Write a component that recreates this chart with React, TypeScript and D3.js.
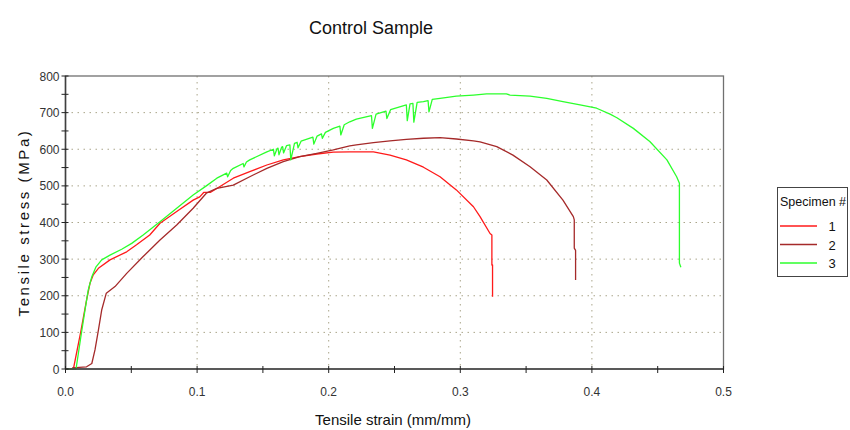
import React from "react";
import * as d3 from "d3";

// --- data (strain mm/mm, stress MPa) ---
const strain1 = [0, 0.006, 0.0115, 0.016, 0.0186, 0.0211, 0.025, 0.0338, 0.0465, 0.054, 0.064, 0.0718, 0.0845, 0.097, 0.102, 0.105, 0.11, 0.1275, 0.14, 0.153, 0.1655, 0.178, 0.191, 0.2035, 0.216, 0.234, 0.2466, 0.259, 0.272, 0.2846, 0.297, 0.31, 0.315, 0.3226, 0.324, 0.324, 0.3245, 0.3245];
const stress1 = [0, 0, 100, 188, 234, 257, 275, 298, 320, 339, 366, 398, 430, 461, 470, 482, 482, 521, 539, 557, 571, 580, 587, 592, 593, 593, 584, 571, 551, 525, 489, 443, 416, 370, 366, 284, 284, 197];

const strain2 = [0.005, 0.016, 0.02, 0.0224, 0.025, 0.0275, 0.031, 0.0376, 0.0465, 0.059, 0.0718, 0.0845, 0.097, 0.107, 0.115, 0.1275, 0.14, 0.153, 0.1655, 0.178, 0.191, 0.2035, 0.216, 0.221, 0.234, 0.2466, 0.259, 0.272, 0.2846, 0.297, 0.31, 0.315, 0.3277, 0.34, 0.353, 0.3657, 0.378, 0.3859, 0.3866, 0.3866, 0.3876, 0.3876];
const stress2 = [3, 6, 15, 52, 106, 161, 207, 225, 261, 307, 352, 393, 439, 480, 493, 502, 525, 548, 566, 580, 589, 598, 609, 612, 618, 623, 627, 630, 632, 628, 623, 620, 607, 584, 552, 516, 461, 416, 407, 330, 324, 243];

// specimen 3 with its serrations (sharp drop, slower recovery)
const strain3 = [0, 0.008, 0.0115, 0.0148, 0.0173, 0.02, 0.0232, 0.0275, 0.0338, 0.0427, 0.0503, 0.059, 0.0718, 0.0845, 0.097, 0.107, 0.115,
    0.1225, 0.1232, 0.1255, 0.1275, 0.135, 0.1356, 0.1375, 0.14, 0.153,
    0.158, 0.1587, 0.1608, 0.1615, 0.1622, 0.1643, 0.165, 0.1657, 0.168, 0.1705, 0.1712, 0.174, 0.176, 0.1767, 0.179,
    0.188, 0.1887, 0.1912, 0.1945, 0.1952, 0.1975, 0.2035, 0.2085, 0.2092, 0.2118, 0.216, 0.221,
    0.2325, 0.2332, 0.236, 0.2435, 0.2442, 0.247, 0.259, 0.2597, 0.2618, 0.264, 0.2647, 0.2672, 0.272, 0.2755, 0.2762, 0.2787,
    0.2846, 0.297, 0.31, 0.32, 0.335, 0.3378, 0.353, 0.3657, 0.378, 0.391, 0.4036, 0.4138, 0.419, 0.4315, 0.444, 0.457, 0.4644, 0.4665, 0.4665, 0.4676];
const stress3 = [0, 0, 84, 161, 216, 252, 279, 298, 311, 327, 343, 366, 402, 439, 475, 500, 521,
    535, 525, 542, 548, 561, 552, 565, 571, 593,
    600, 582, 602, 603, 585, 606, 607, 590, 610, 612, 571, 616, 619, 604, 622,
    633, 614, 636, 642, 630, 646, 657, 663, 639, 667, 675, 682,
    692, 657, 696, 704, 684, 708, 721, 678, 724, 725, 674, 728, 730, 733, 702, 736,
    739, 745, 748, 751, 751, 748, 745, 739, 730, 721, 712, 696, 686, 657, 621, 571, 525, 507, 289, 278];

const specimenLabels = ["1", "2", "3"];
const specimenColors = ["#ff1a1a", "#a52a2a", "#2cff2c"];
const xTicks = [0, 0.1, 0.2, 0.3, 0.4, 0.5];
const yTicks = [0, 100, 200, 300, 400, 500, 600, 700, 800];

const FONT = '"Liberation Sans", Arial, sans-serif';

export default function App() {
    const left = 65.5, right = 723.5, top = 76, bottom = 369;

    const x = d3.scaleLinear().domain([0, 0.5]).range([left, right]);
    const y = d3.scaleLinear().domain([0, 800]).range([bottom, top]);

    const series = [
        { xs: strain1, ys: stress1 },
        { xs: strain2, ys: stress2 },
        { xs: strain3, ys: stress3 },
    ];

    const line = d3.line<[number, number]>()
        .x(d => x(d[0]))
        .y(d => y(d[1]));

    const minorX = d3.range(0, 0.5001, 0.05);
    const minorY = d3.range(0, 801, 50);

    return (
        <svg width={850} height={430} style={{ position: "absolute", left: 0, top: 0, background: "#fff" }} fontFamily={FONT}>
            {/* title */}
            <text x={371} y={34} textAnchor="middle" fontSize={18} fill="#111">Control Sample</text>

            {/* grid */}
            {yTicks.slice(1, -1).map(t => (
                <line key={"gy" + t} x1={left} x2={right} y1={y(t)} y2={y(t)}
                    stroke="#aaa58a" strokeWidth={1} strokeDasharray="1.5,4.5" />
            ))}
            {xTicks.slice(1, -1).map(t => (
                <line key={"gx" + t} x1={x(t)} x2={x(t)} y1={top} y2={bottom}
                    stroke="#aaa58a" strokeWidth={1} strokeDasharray="1.5,4.5" />
            ))}

            {/* curves */}
            {series.map((s, i) => (
                <path key={"s" + i}
                    d={line(s.xs.map((v, j) => [v, s.ys[j]] as [number, number])) || ""}
                    fill="none" stroke={specimenColors[i]} strokeWidth={1.3} strokeLinejoin="round" />
            ))}

            {/* frame */}
            <rect x={left} y={top} width={right - left} height={bottom - top} fill="none" stroke="#707070" strokeWidth={1.3} />
            <line x1={left} x2={left} y1={top} y2={bottom} stroke="#404040" strokeWidth={1.5} />
            <line x1={left} x2={right} y1={bottom} y2={bottom} stroke="#404040" strokeWidth={1.5} />

            {/* ticks */}
            {minorY.map(t => (
                <line key={"ty" + t} x1={left - 4} x2={left + 3} y1={y(t)} y2={y(t)} stroke="#222" strokeWidth={1} />
            ))}
            {minorX.map(t => (
                <line key={"tx" + t} x1={x(t)} x2={x(t)} y1={bottom - 3} y2={bottom + 4} stroke="#222" strokeWidth={1} />
            ))}

            {/* tick labels */}
            {yTicks.map(t => (
                <text key={"ly" + t} x={left - 6} y={y(t) + 4.5} textAnchor="end" fontSize={12} fill="#333">{t}</text>
            ))}
            {xTicks.map(t => (
                <text key={"lx" + t} x={x(t)} y={bottom + 27} textAnchor="middle" fontSize={12} fill="#333">{t.toFixed(1)}</text>
            ))}

            {/* axis titles */}
            <text x={393} y={425} textAnchor="middle" fontSize={15} fill="#111">Tensile strain (mm/mm)</text>
            <text transform={`translate(29,${(top + bottom) / 2}) rotate(-90)`} textAnchor="middle"
                fontSize={15} letterSpacing={2.6} fill="#111">Tensile stress (MPa)</text>

            {/* legend */}
            <rect x={777.5} y={187.5} width={70} height={89} fill="#fff" stroke="#444" strokeWidth={1} />
            <text x={780} y={206} fontSize={12.5} fill="#111">Specimen #</text>
            {specimenLabels.map((lab, i) => (
                <g key={"lg" + lab}>
                    <line x1={780} x2={817} y1={226 + i * 18.5} y2={226 + i * 18.5} stroke={specimenColors[i]} strokeWidth={1.5} />
                    <text x={832} y={231 + i * 18.5} textAnchor="middle" fontSize={13} fill="#111">{lab}</text>
                </g>
            ))}
        </svg>
    );
}
